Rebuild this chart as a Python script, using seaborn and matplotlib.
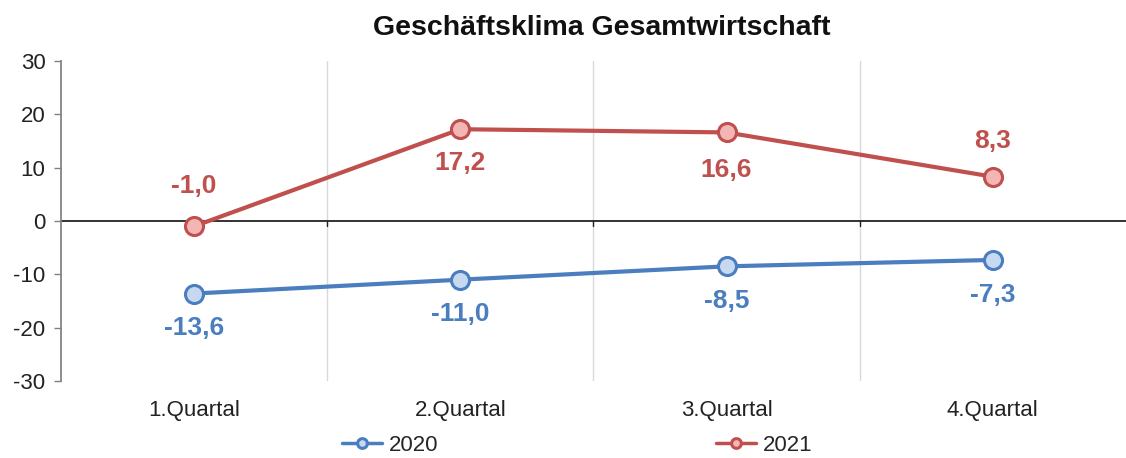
import matplotlib
matplotlib.use("Agg")
import matplotlib.pyplot as plt
import seaborn as sns
import pandas as pd

quartale = ["1.Quartal", "2.Quartal", "3.Quartal", "4.Quartal"]
werte_2020 = [-13.6, -11.0, -8.5, -7.3]
werte_2021 = [-1.0, 17.2, 16.6, 8.3]

sns.set_theme(style="white")
plt.rcParams["font.family"] = ["Liberation Sans", "DejaVu Sans"]
plt.rcParams["axes.unicode_minus"] = False

df = pd.DataFrame({
    "pos": list(range(4)) * 2,
    "wert": werte_2020 + werte_2021,
    "jahr": ["2020"] * 4 + ["2021"] * 4,
})

line_col = {"2020": "#4a7ebf", "2021": "#c0504d"}
face_col = {"2020": "#c6d9f1", "2021": "#f4b6b5"}

fig = plt.figure(figsize=(11.26, 4.58), dpi=100)
ax = fig.add_axes([0.054, 0.168, 0.946, 0.699])

for jahr in ["2020", "2021"]:
    sub = df[df["jahr"] == jahr]
    sns.lineplot(data=sub, x="pos", y="wert", ax=ax, color=line_col[jahr],
                 linewidth=3, marker="o", markersize=13,
                 markerfacecolor=face_col[jahr], markeredgecolor=line_col[jahr],
                 markeredgewidth=2.2, label=jahr, zorder=5)

# Beschriftungen der Werte
for i, v in enumerate(werte_2020):
    ax.annotate(f"{v:.1f}".replace(".", ","), (i, v), xytext=(0, -25),
                textcoords="offset points", ha="center", va="center",
                fontsize=19, fontweight="bold", color=line_col["2020"])
for i, v in enumerate(werte_2021):
    off = {0: 29, 1: -24, 2: -27, 3: 26}[i]
    ax.annotate(f"{v:.1f}".replace(".", ","), (i, v), xytext=(0, off),
                textcoords="offset points", ha="center", va="center",
                fontsize=19, fontweight="bold", color=line_col["2021"])

ax.set_xlim(-0.5, 3.5)
ax.set_ylim(-30, 30)
ax.set_yticks(range(-30, 31, 10))
ax.set_xticks([])
ax.set_xlabel("")
ax.set_ylabel("")
ax.tick_params(axis="y", labelsize=16, length=5, width=1, color="#808080",
               left=True, pad=6, labelcolor="#222222")

for b in [0.5, 1.5, 2.5]:
    ax.axvline(b, color="#d9d9d9", linewidth=1, zorder=0)
    ax.plot([b, b], [-0.9, 0], color="#222222", linewidth=1, zorder=1)
ax.axhline(0, color="#222222", linewidth=1.3, zorder=1)

for i, q in enumerate(quartale):
    ax.text(i, -35.5, q, ha="center", va="center", fontsize=16, color="#222222")

for s in ["top", "right", "bottom"]:
    ax.spines[s].set_visible(False)
ax.spines["left"].set_color("#808080")

ax.set_title("Geschäftsklima Gesamtwirtschaft", fontsize=20.5, fontweight="bold",
             pad=19, x=0.508, color="#111111")

leg = ax.legend(loc="center", bbox_to_anchor=(0.485, -0.2), ncol=2, frameon=False,
                fontsize=16, columnspacing=12.5, handlelength=1.8, handletextpad=0.3)
for h in leg.legend_handles:
    h.set_markersize(7)
    h.set_linewidth(2.5)

fig.savefig("out.png", dpi=100)
